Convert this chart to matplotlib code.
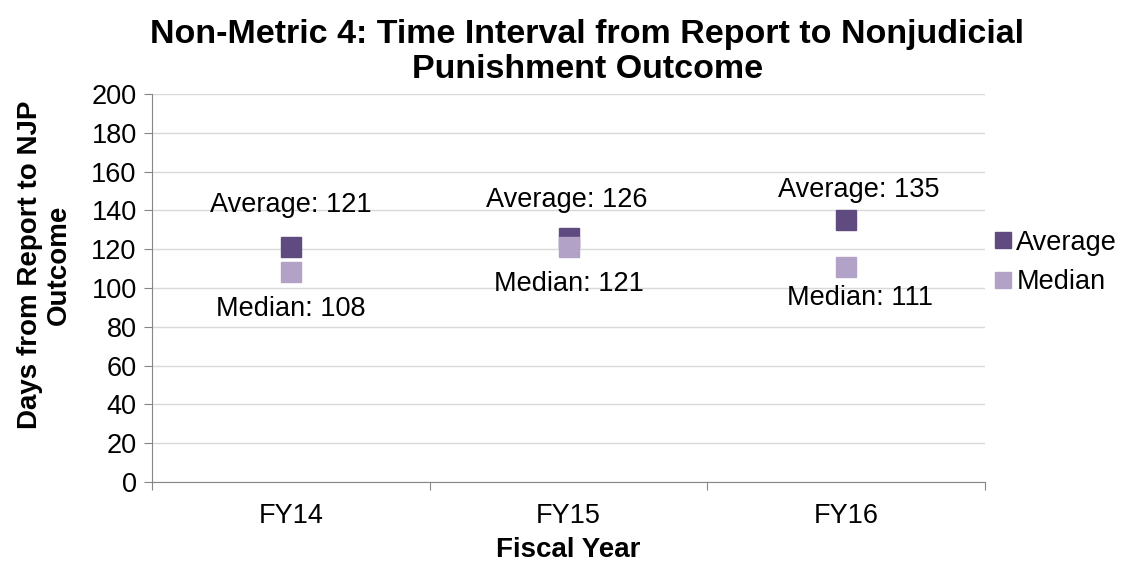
import numpy as np
import matplotlib.pyplot as plt

plt.rcParams['font.family'] = ['Liberation Sans', 'DejaVu Sans']

years = ['FY14', 'FY15', 'FY16']
average = [121, 126, 135]
median = [108, 121, 111]

avg_color = '#5F4B7F'
med_color = '#B3A2C8'

# label offsets in pixels (dx, dy), placed by hand like in the original
avg_offsets = [(0, 42), (-2, 38), (13, 30)]
med_offsets = [(0, -37), (0, -37), (14, -31)]

fig = plt.figure(figsize=(11.25, 5.62), dpi=100)
ax = fig.add_axes([152 / 1125, 1 - 482 / 562, 833 / 1125, 388 / 562])

x = np.arange(1, len(years) + 1)
ax.plot(x, average, 's', color=avg_color, markersize=15, label='Average', zorder=3)
ax.plot(x, median, 's', color=med_color, markersize=15, label='Median', zorder=3)

px = 72 / 100
for xi, a, m, ao, mo in zip(x, average, median, avg_offsets, med_offsets):
    ax.annotate('Average: %d' % a, (xi, a), xytext=(ao[0] * px, ao[1] * px),
                textcoords='offset points', ha='center', va='center', fontsize=19.5)
    ax.annotate('Median: %d' % m, (xi, m), xytext=(mo[0] * px, mo[1] * px),
                textcoords='offset points', ha='center', va='center', fontsize=19.5)

ax.set_xlim(0.5, 3.5)
ax.set_ylim(0, 200)
ax.set_yticks(np.arange(0, 201, 20))
ax.set_xticks([0.5, 1.5, 2.5, 3.5])
ax.set_xticklabels([])
ax.set_xticks(x, minor=True)
ax.set_xticklabels(years, minor=True)
ax.tick_params(axis='x', which='minor', length=0, pad=15, labelsize=19.5)
ax.tick_params(axis='x', which='major', length=6, color='#868686', direction='out')
ax.tick_params(axis='y', length=6, color='#868686', direction='out', labelsize=19.5, pad=5)

ax.grid(axis='y', color='#D9D9D9', linewidth=1)
ax.set_axisbelow(True)
for s in ['top', 'right']:
    ax.spines[s].set_visible(False)
for s in ['left', 'bottom']:
    ax.spines[s].set_color('#868686')

ax.set_xlabel('Fiscal Year', fontsize=20, fontweight='bold', labelpad=6)
ax.set_ylabel('Days from Report to NJP\nOutcome', fontsize=20, fontweight='bold',
              linespacing=1.15)
ax.yaxis.set_label_coords(-0.096, 0.56)
fig.suptitle('Non-Metric 4: Time Interval from Report to Nonjudicial\nPunishment Outcome',
             fontsize=24.5, fontweight='bold', y=0.966, x=0.522, linespacing=1.18)

ax.legend(loc='center left', bbox_to_anchor=(0.992, 0.566), frameon=False, fontsize=19.5,
          handletextpad=0.0, handlelength=1.0, labelspacing=0.5, borderaxespad=0,
          markerscale=0.8)

fig.savefig('out.png', dpi=100)
